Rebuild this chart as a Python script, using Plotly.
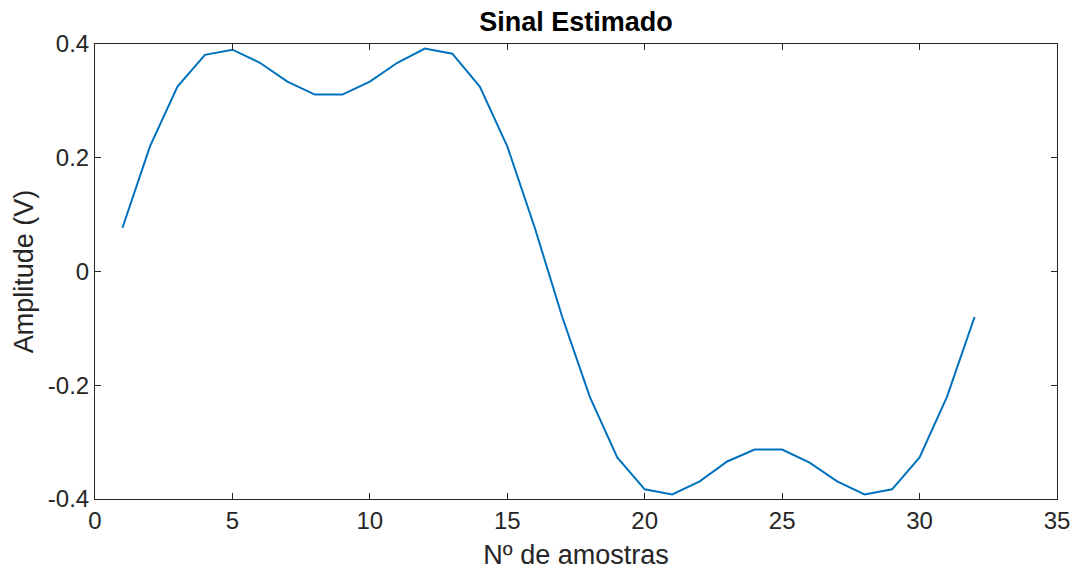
import plotly.graph_objects as go

samples = list(range(1, 33))
amplitude = [0.077, 0.22, 0.325, 0.381, 0.39, 0.367, 0.334, 0.311, 0.311, 0.334,
             0.367, 0.392, 0.383, 0.325, 0.22, 0.077, -0.08, -0.22, -0.327, -0.383,
             -0.392, -0.369, -0.334, -0.313, -0.313, -0.336, -0.369, -0.392, -0.383, -0.327,
             -0.22, -0.08]
x_ticks = [0, 5, 10, 15, 20, 25, 30, 35]
y_ticks = [-0.4, -0.2, 0, 0.2, 0.4]
y_tick_labels = ["-0.4", "-0.2", "0", "0.2", "0.4"]

FONT = "Liberation Sans, Arial"

axis_common = dict(showgrid=False, zeroline=False, showline=True, mirror="ticks",
                   linecolor="#262626", linewidth=1, ticks="inside", ticklen=6,
                   tickcolor="#262626", tickwidth=1,
                   tickfont=dict(family=FONT, size=24, color="#262626"))

fig = go.Figure()
fig.add_trace(go.Scatter(x=samples, y=amplitude, mode="lines",
                         line=dict(color="#0072BD", width=2)))

fig.update_layout(
    width=1082, height=576,
    margin=dict(l=95, r=25, t=44, b=77),
    paper_bgcolor="white", plot_bgcolor="white",
    showlegend=False,
    title=dict(text="<b>Sinal Estimado</b>", xref="paper", x=0.5, xanchor="center",
               yref="container", y=1 - 22 / 576, yanchor="middle",
               font=dict(family=FONT, size=27, color="black")),
    xaxis=dict(range=[0, 35], tickvals=x_ticks,
               title=dict(text="Nº de amostras", standoff=12,
                          font=dict(family=FONT, size=27, color="#262626")),
               **axis_common),
    yaxis=dict(range=[-0.4, 0.4], tickvals=y_ticks, ticktext=y_tick_labels,
               title=dict(text="Amplitude (V)", standoff=6,
                          font=dict(family=FONT, size=27, color="#262626")),
               **axis_common),
)

fig.write_html("out.html")
